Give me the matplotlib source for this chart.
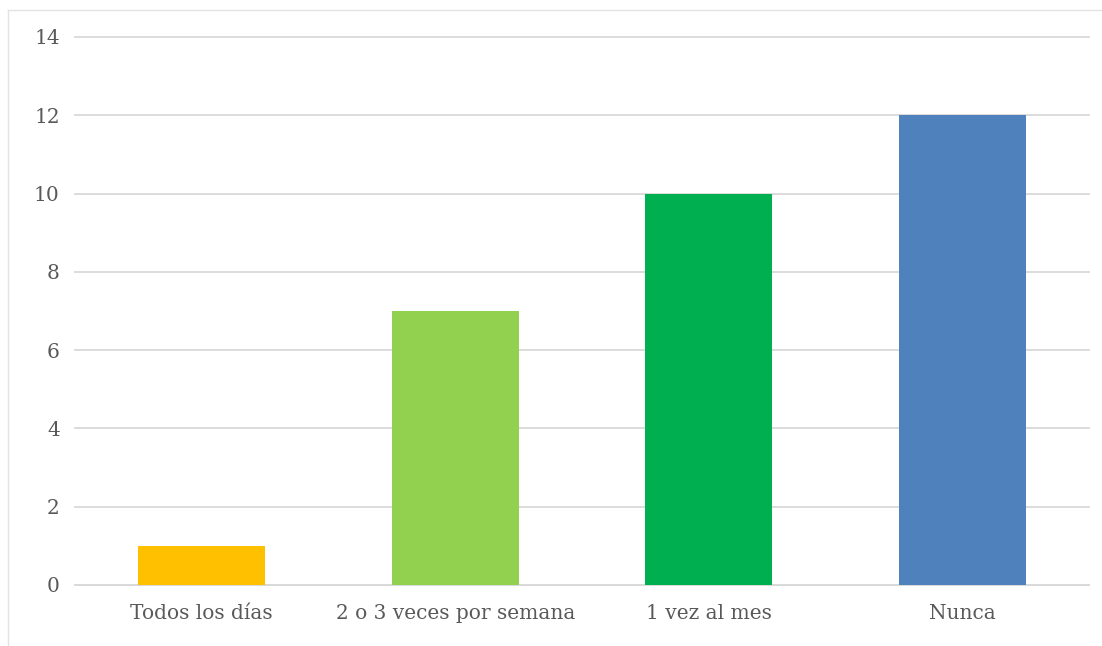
import matplotlib.pyplot as plt
from matplotlib.lines import Line2D

# Survey frequency counts
categories = ["Todos los días", "2 o 3 veces por semana", "1 vez al mes", "Nunca"]
counts = [1, 7, 10, 12]
bar_colors = ["#FFC000", "#92D050", "#00B050", "#4F81BD"]
y_ticks = [0, 2, 4, 6, 8, 10, 12, 14]

text_color = "#595959"
grid_color = "#D9D9D9"

fig = plt.figure(figsize=(11.02, 6.46), dpi=100)
W, H = 1102, 646

# outer chart frame: only the top and left edges fall inside the image
fig.add_artist(Line2D([8 / W, 1.0], [1 - 10 / H, 1 - 10 / H],
                      transform=fig.transFigure, color="#E3E3E3", linewidth=1.0))
fig.add_artist(Line2D([8 / W, 8 / W], [0.0, 1 - 10 / H],
                      transform=fig.transFigure, color="#E3E3E3", linewidth=1.0))

ax = fig.add_axes([75 / W, 1 - 585 / H, (1089 - 75) / W, (585 - 37) / H])
x = range(len(categories))
ax.bar(x, counts, width=0.5, color=bar_colors, zorder=3)

ax.set_xlim(-0.5, len(categories) - 0.5)
ax.set_ylim(0, 14)
ax.set_yticks(y_ticks)
ax.set_xticks(list(x))
ax.set_xticklabels(categories)

ax.grid(axis="y", color=grid_color, linewidth=1.3, zorder=0)
for gl in ax.get_ygridlines():
    gl.set_clip_on(False)
for side in ["top", "right", "left"]:
    ax.spines[side].set_visible(False)
ax.spines["bottom"].set_color(grid_color)
ax.spines["bottom"].set_linewidth(1.3)

ax.tick_params(axis="both", length=0, labelsize=14.5, labelcolor=text_color)
ax.tick_params(axis="y", pad=11)
ax.tick_params(axis="x", pad=14)
for lbl in ax.get_xticklabels() + ax.get_yticklabels():
    lbl.set_family("DejaVu Serif")

fig.savefig("out.png", dpi=100)
